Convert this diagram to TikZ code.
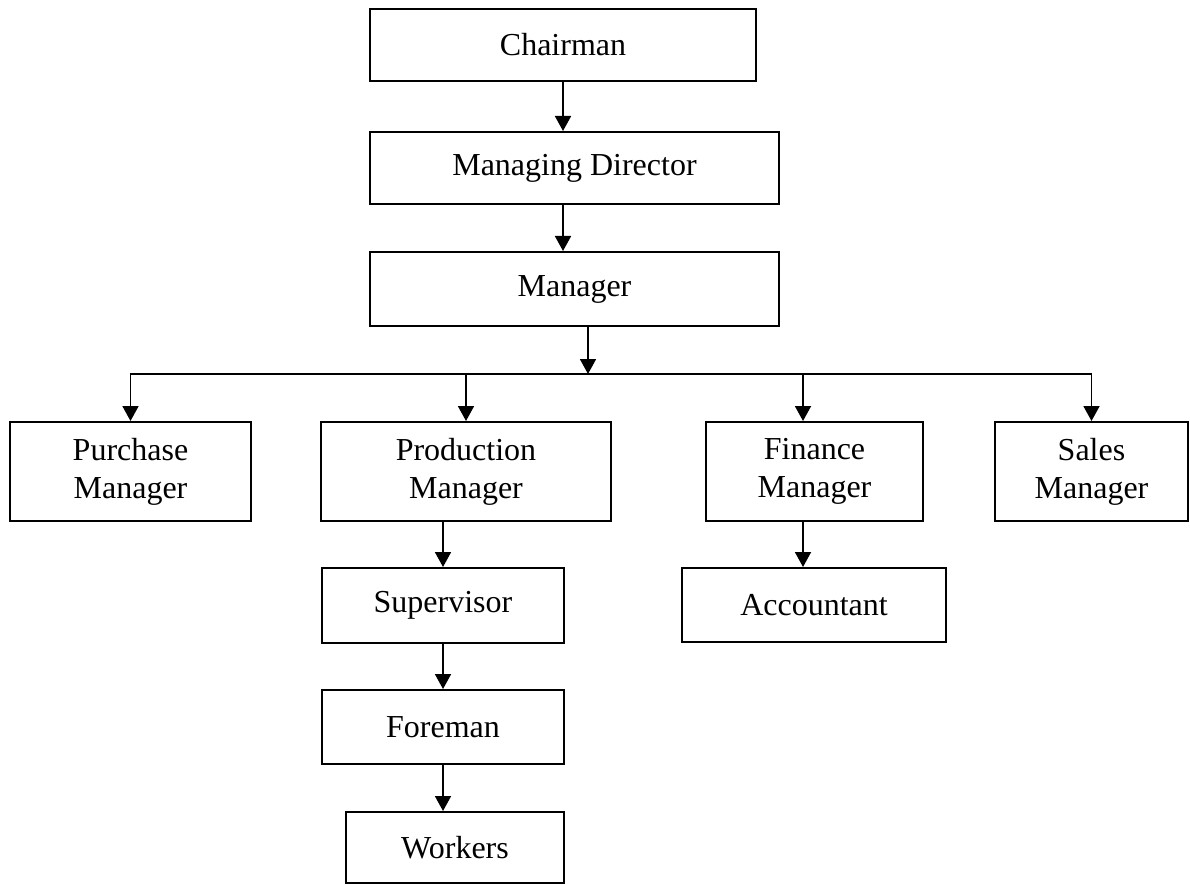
\documentclass[tikz,border=0pt]{standalone}
\usepackage{fontspec}
\setmainfont{Liberation Serif}
\usetikzlibrary{arrows.meta}

\tikzset{every picture/.style={line width=1.8pt}}
\tikzset{
	post/.style={draw, line width=2pt, inner sep=0pt, align=center, font=\fontsize{32}{38}\selectfont},
	arr/.style={-{Triangle[length=15pt,width=16pt]}, line width=1.8pt}
}

\begin{document}
\begin{tikzpicture}[x=1pt,y=1pt,yscale=-1,xscale=1]
		\useasboundingbox (0,0) rectangle (1190,885); %picture size of the reference

		%Shape: Rectangle [top of the chart]
		\node [post, minimum width=386pt, minimum height=72pt] (chair) at (563,45) {Chairman};
		\node [post, minimum width=409pt, minimum height=72pt] (md) at (574.5,168) {Managing Director};
		\node [post, minimum width=409pt, minimum height=74pt] (mgr) at (574.5,289) {Manager};

		%Shape: Rectangle [departments]
		\node [post, minimum width=241pt, minimum height=99pt] (purch) at (130.5,471.5) {Purchase\\Manager};
		\node [post, minimum width=290pt, minimum height=99pt] (prod) at (466,471.5) {Production\\Manager};
		\node [post, minimum width=217pt, minimum height=99pt] (fin) at (814.5,471.5) {Finance\\Manager};
		\node [post, minimum width=193pt, minimum height=99pt] (sales) at (1091.5,471.5) {Sales\\Manager};

		%Shape: Rectangle [lower posts]
		\node [post, minimum width=242pt, minimum height=75pt] (sup) at (443,605.5) {Supervisor};
		\node [post, minimum width=242pt, minimum height=74pt] (fore) at (443,727) {Foreman};
		\node [post, minimum width=218pt, minimum height=71pt] (work) at (455,847.5) {Workers};
		\node [post, minimum width=264pt, minimum height=74pt] (acct) at (814,605) {Accountant};

		%Straight Lines [top]
		\draw [arr] (chair.south) -- (chair.south |- md.north);
		\draw [arr] (chair.south |- md.south) -- (chair.south |- mgr.north);

		%Straight Lines [bus]
		\coordinate (bus) at (588,374);
		\draw [arr] (mgr.south -| bus) -- (bus);
		\draw [arr] (bus) -| (purch.north);
		\draw [arr] (bus) -| (prod.north);
		\draw [arr] (bus) -| ([xshift=-11.5pt]fin.north);
		\draw [arr] (bus) -| (sales.north);

		%Straight Lines [below]
		\draw [arr] (sup.north |- prod.south) -- (sup.north);
		\draw [arr] (sup.south) -- (fore.north);
		\draw [arr] (fore.south) -- (fore.south |- work.north);
		\draw [arr] ([xshift=-11.5pt]fin.south) -- ([xshift=-11.5pt]fin.south |- acct.north);

	\end{tikzpicture}
\end{document}
